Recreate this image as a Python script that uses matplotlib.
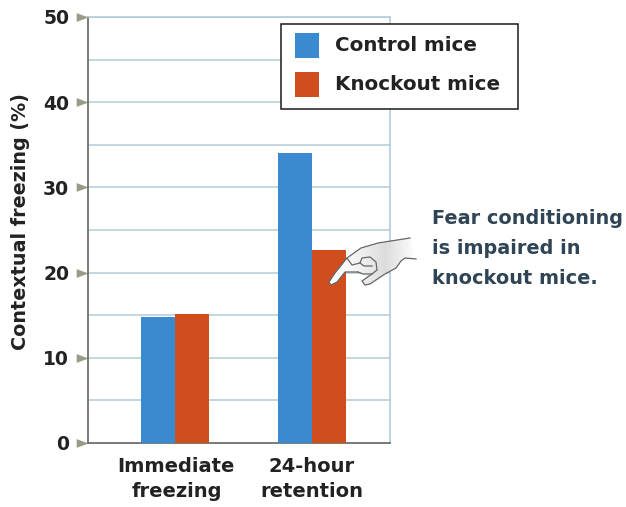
import matplotlib
matplotlib.use("Agg")
from matplotlib import pyplot as plt
from matplotlib.patches import PathPatch, Rectangle
from matplotlib.path import Path
import numpy as np

categories = ["Immediate\nfreezing", "24-hour\nretention"]
legend_names = ["Control mice", "Knockout mice"]
control = [14.8, 34.0]
knockout = [15.1, 22.7]
y_ticks = [0, 10, 20, 30, 40, 50]
grid_lines = [5, 10, 15, 20, 25, 30, 35, 40, 45, 50]

W, H = 626, 507
BLUE = "#3a8ad0"
RED = "#d04e1e"
GRID = "#b3ccd9"
AXIS = "#6e6e6a"
TEXT = "#222222"
NOTE = "#2f4454"
TICK = "#9a9a86"

plt.rcParams["font.family"] = ["DejaVu Sans"]
plt.rcParams["font.weight"] = "bold"
plt.rcParams["axes.labelweight"] = "bold"

fig = plt.figure(figsize=(W / 100, H / 100), dpi=100)
ax = fig.add_axes([88 / W, 1 - 443 / H, (390 - 88) / W, (443 - 17) / H])

width = 0.248
ax.bar([0 - width / 2, 1 - width / 2], control, width, color=BLUE, zorder=3)
ax.bar([0 + width / 2, 1 + width / 2], knockout, width, color=RED, zorder=3)
ax.set_xlim(-0.635, 1.569)
ax.set_ylim(0, 50)

for v in grid_lines:
    ax.axhline(v, color=GRID, lw=1.1, zorder=1)

ax.set_yticks(y_ticks)
ax.set_xticks([0.01, 1.0])
ax.set_xticklabels(categories, fontsize=14, color=TEXT, linespacing=1.42)
ax.tick_params(axis="x", length=0, pad=10)
ax.tick_params(axis="y", labelsize=13.5, labelcolor=TEXT, pad=10, color=TICK)
arrow = Path([(-1, -0.37), (0, 0), (-1, 0.37), (-1, -0.37)])
for t in ax.yaxis.get_major_ticks():
    t.tick1line.set_marker(arrow)
    t.tick1line.set_markersize(17)
    t.tick1line.set_markerfacecolor(TICK)
    t.tick1line.set_markeredgecolor(TICK)
    t.tick1line.set_markeredgewidth(0)

for side in ["top", "right"]:
    ax.spines[side].set_color(GRID)
    ax.spines[side].set_linewidth(1.2)
for side in ["left", "bottom"]:
    ax.spines[side].set_color(AXIS)
    ax.spines[side].set_linewidth(1.3)

ax.set_ylabel("Contextual freezing (%)", fontsize=13.8, color=TEXT)
ax.yaxis.set_label_coords(30 / W, 1 - 222 / H, transform=fig.transFigure)

# overlay in picture pixels for the legend box, the note and the hand
ov = fig.add_axes([0, 0, 1, 1], zorder=5)
ov.set_xlim(0, W)
ov.set_ylim(H, 0)
ov.axis("off")

ov.add_patch(Rectangle((281, 24), 237, 85, facecolor="white", edgecolor="#1a1a1a", lw=1.1))
for y, col, name in zip([33, 72], [BLUE, RED], legend_names):
    ov.add_patch(Rectangle((295, y), 24, 25, facecolor=col, edgecolor="none"))
    ov.text(335, y + 12.5, name, fontsize=14.3, color=TEXT, va="center", ha="left")

for y, s in zip([219, 248, 278], ["Fear conditioning", "is impaired in", "knockout mice."]):
    ov.text(432, y, s, fontsize=13.9, color=NOTE, va="center", ha="left")

hand_fill = [(329, 282), (335, 273), (347, 258), (361, 248), (378, 243), (410, 238),
             (416, 259), (405, 258), (401, 261), (396, 268), (385, 274), (370, 284),
             (365, 285), (362, 281), (367, 276), (360, 272), (345, 272), (337, 282),
             (331, 285), (329, 282)]
hand = PathPatch(Path(hand_fill), facecolor="none", edgecolor="none")
ov.add_patch(hand)
shade = np.interp(np.arange(329, 416), [329, 350, 385, 416], [1.0, 0.97, 0.86, 1.0])
img = ov.imshow(shade[np.newaxis, :], extent=(329, 416, 285, 238), cmap="gray", vmin=0, vmax=1, aspect="auto")
img.set_clip_path(hand)
ov.set_xlim(0, W)
ov.set_ylim(H, 0)

outline = [
    [(410, 238), (378, 243), (361, 248), (347, 258), (335, 273), (329, 282), (331, 285), (337, 282), (345, 272), (358, 272)],
    [(416, 259), (405, 258), (401, 261), (396, 268), (385, 274), (370, 284), (365, 285), (362, 281), (372, 274)],
    [(358, 272), (363, 274), (372, 274), (377, 270), (376, 262), (370, 257), (362, 258), (360, 263), (364, 266), (372, 266)],
    [(347, 258), (352, 265), (360, 263)],
]
for seg in outline:
    xs, ys = zip(*seg)
    ov.plot(xs, ys, color="#66666a", lw=0.9)

fig.savefig("out.png", dpi=100, facecolor="white")
plt.close()
